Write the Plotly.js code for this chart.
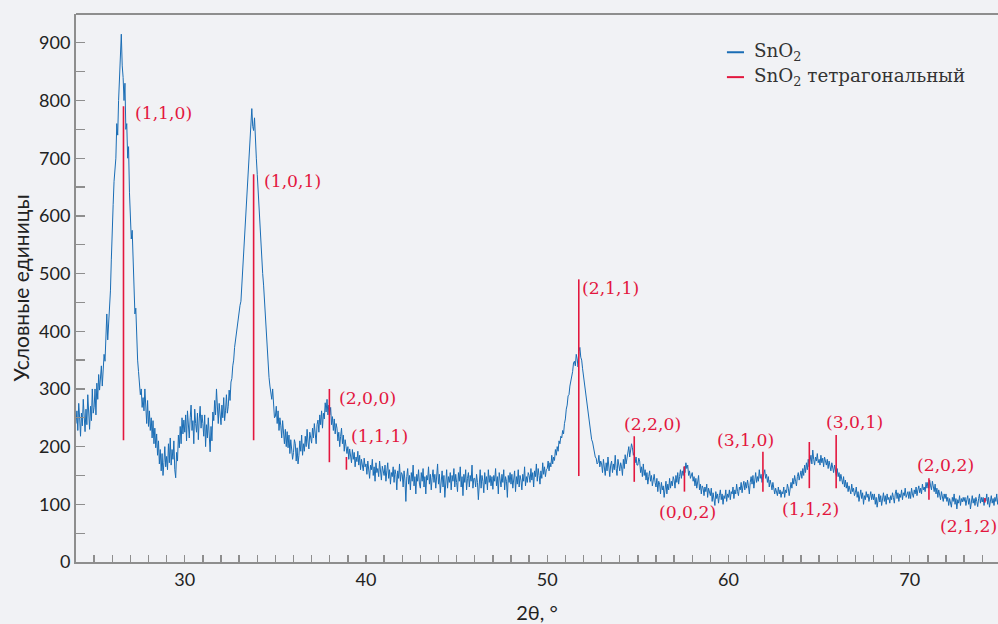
<!DOCTYPE html>
<html>
<head>
<meta charset="utf-8">
<script src="https://cdn.plot.ly/plotly-3.0.1.min.js"></script>
<style>html,body{margin:0;padding:0;background:#f1f2f5;}</style>
</head>
<body>
<div id="chart" style="width:998px;height:624px;"></div>
<script>
// Measured SnO2 pattern, sampled every 0.05° from 24.00° to 74.95° (one row = 1°)
const thetaStart = 24.0;
const thetaStep = 0.05;
const snoIntensity = [
  240, 262, 228, 275, 250, 218, 258, 236, 282, 244, 226, 265, 238, 290, 252, 230, 270, 245, 300, 258,
  268, 300, 255, 310, 282, 325, 298, 318, 340, 305, 335, 360, 348, 392, 430, 385, 410, 445, 470, 525,
  590, 620, 660, 676, 700, 760, 740, 800, 835, 870, 915, 860, 840, 800, 830, 750, 760, 700, 720, 640,
  600, 560, 575, 510, 470, 430, 440, 380, 350, 330, 315, 290, 300, 268, 285, 262, 300, 255, 240, 280,
  235, 262, 228, 250, 215, 245, 205, 232, 198, 222, 185, 210, 170, 195, 158, 188, 150, 172, 200, 165,
  183, 160, 205, 172, 215, 168, 195, 178, 210, 160, 146, 190, 175, 220, 198, 235, 205, 250, 222, 246,
  225, 255, 210, 262, 238, 215, 250, 272, 228, 245, 205, 265, 240, 225, 258, 212, 248, 270, 232, 255,
  240, 218, 255, 200, 238, 215, 250, 225, 191, 235, 210, 260, 245, 280, 255, 300, 262, 240, 275, 250,
  238, 272, 250, 285, 245, 262, 290, 258, 270, 298, 280, 312, 318, 340, 350, 372, 385, 400, 412, 425,
  430, 445, 452, 480, 505, 530, 555, 590, 618, 650, 685, 700, 735, 760, 786, 755, 748, 770, 714, 700,
  672, 640, 605, 590, 560, 530, 500, 480, 450, 420, 392, 370, 345, 320, 305, 290, 282, 300, 268, 250,
  252, 270, 240, 262, 228, 250, 236, 215, 245, 212, 205, 230, 200, 226, 198, 220, 188, 212, 198, 178,
  190, 212, 205, 175, 198, 170, 185, 210, 192, 220, 185, 205, 192, 218, 200, 230, 208, 196, 225, 212,
  206, 232, 215, 240, 222, 205, 238, 246, 225, 255, 238, 262, 232, 258, 248, 276, 260, 282, 255, 272,
  255, 268, 238, 252, 228, 248, 222, 240, 232, 210, 225, 200, 218, 232, 205, 220, 192, 212, 200, 188,
  200, 178, 196, 185, 172, 195, 178, 190, 165, 182, 174, 192, 168, 185, 160, 178, 170, 158, 180, 165,
  170, 152, 175, 158, 145, 168, 160, 178, 150, 165, 140, 172, 155, 162, 148, 175, 158, 142, 166, 155,
  150, 168, 140, 158, 172, 145, 160, 135, 155, 148, 165, 138, 160, 152, 125, 158, 145, 170, 140, 155,
  152, 130, 158, 142, 105, 148, 162, 135, 150, 125, 155, 140, 168, 132, 148, 118, 152, 140, 160, 135,
  128, 155, 140, 162, 130, 148, 118, 150, 142, 165, 135, 152, 125, 146, 160, 138, 152, 128, 145, 170,
  135, 152, 120, 148, 158, 130, 150, 112, 142, 160, 128, 148, 138, 155, 125, 150, 140, 162, 130, 152,
  138, 122, 155, 140, 165, 130, 148, 115, 152, 138, 160, 125, 145, 155, 130, 150, 140, 168, 128, 145,
  145, 130, 152, 138, 108, 145, 160, 128, 150, 140, 120, 155, 135, 148, 125, 160, 138, 150, 132, 148,
  126, 150, 140, 162, 132, 148, 118, 155, 142, 130, 152, 138, 160, 125, 148, 140, 112, 150, 138, 155,
  135, 152, 128, 145, 158, 122, 148, 135, 160, 130, 150, 142, 125, 152, 140, 165, 132, 148, 138, 155,
  150, 138, 162, 142, 155, 130, 158, 148, 170, 140, 162, 150, 135, 158, 145, 172, 152, 165, 148, 160,
  162, 175, 158, 172, 165, 185, 170, 182, 176, 195, 185, 200, 192, 210, 205, 218, 215, 228, 222, 240,
  248, 265, 272, 288, 290, 305, 312, 325, 330, 345, 348, 340, 360, 352, 338, 365, 372, 355, 350, 335,
  322, 310, 300, 290, 281, 262, 250, 235, 228, 212, 208, 198, 196, 182, 180, 170, 172, 185, 165, 175,
  170, 155, 178, 162, 150, 172, 158, 182, 160, 148, 168, 175, 155, 170, 160, 185, 162, 150, 178, 165,
  158, 172, 165, 150, 178, 162, 186, 170, 180, 195, 200, 182, 192, 205, 198, 185, 190, 172, 182, 168,
  168, 180, 175, 155, 165, 148, 170, 150, 160, 142, 155, 135, 148, 158, 140, 150, 132, 145, 152, 138,
  130, 145, 122, 140, 135, 118, 138, 125, 132, 112, 128, 140, 118, 135, 125, 145, 128, 140, 132, 148,
  142, 128, 150, 138, 155, 135, 148, 160, 145, 158, 150, 165, 155, 172, 162, 168, 150, 158, 145, 152,
  155, 140, 148, 132, 145, 128, 138, 150, 125, 135, 118, 132, 128, 115, 130, 122, 135, 112, 128, 120,
  115, 128, 105, 120, 112, 98, 122, 110, 118, 102, 115, 125, 108, 118, 100, 115, 110, 125, 105, 118,
  112, 125, 108, 122, 118, 130, 110, 125, 118, 135, 122, 115, 130, 125, 138, 120, 132, 140, 125, 138,
  128, 142, 132, 118, 138, 148, 135, 150, 128, 142, 155, 138, 148, 140, 160, 145, 152, 138, 148, 155,
  160, 145, 152, 138, 148, 130, 142, 135, 125, 138, 130, 118, 128, 122, 115, 130, 118, 125, 112, 122,
  118, 130, 112, 125, 120, 135, 128, 115, 132, 138, 128, 145, 135, 150, 140, 132, 148, 155, 142, 150,
  158, 145, 162, 150, 168, 155, 172, 160, 178, 165, 175, 185, 170, 194, 178, 168, 182, 175, 188, 172,
  178, 168, 185, 172, 180, 165, 182, 175, 168, 178, 162, 175, 168, 158, 172, 165, 155, 168, 160, 150,
  162, 148, 155, 140, 152, 145, 135, 148, 130, 142, 128, 138, 122, 132, 125, 118, 135, 122, 128, 115,
  120, 130, 112, 122, 105, 118, 125, 110, 120, 100, 115, 108, 122, 112, 118, 105, 115, 122, 108, 118,
  108, 118, 100, 112, 95, 110, 118, 104, 115, 98, 112, 120, 105, 115, 100, 118, 108, 112, 102, 115,
  108, 120, 112, 102, 118, 125, 110, 120, 105, 118, 112, 125, 108, 120, 115, 128, 112, 118, 122, 110,
  122, 110, 128, 118, 112, 125, 118, 130, 115, 125, 132, 120, 128, 118, 135, 125, 130, 122, 138, 128,
  138, 128, 142, 132, 125, 140, 130, 122, 135, 118, 128, 112, 125, 118, 108, 122, 115, 105, 118, 110,
  118, 105, 112, 98, 110, 102, 95, 112, 105, 118, 100, 110, 92, 108, 102, 115, 98, 110, 104, 112,
  105, 112, 98, 108, 115, 100, 110, 92, 108, 115, 102, 110, 98, 112, 105, 96, 110, 118, 102, 112,
  104, 112, 98, 110, 106, 118, 100, 112, 95, 108, 115, 102, 110, 98, 112, 105, 118, 100, 112, 108
];

// Tetragonal SnO2 reference reflections
const refHkl    = ["(1,1,0)", "(1,0,1)", "(2,0,0)", "(1,1,1)", "(2,1,1)", "(2,2,0)", "(0,0,2)", "(3,1,0)", "(1,1,2)", "(3,0,1)", "(2,0,2)", "(2,1,2)"];
const refTheta  = [26.62, 33.8, 37.98, 38.92, 51.74, 54.8, 57.57, 61.9, 64.46, 65.94, 71.06, 74.15];
const refTop    = [790, 672, 300, 182, 490, 218, 166, 191, 208, 220, 145, 111];
const refBottom = [211, 211, 173, 160, 149, 139, 122, 122, 128, 128, 108, 103];
// label anchor points (centre of each hkl label, data units)
const labelTheta = [28.83, 35.92, 40.06, 40.77, 53.49, 55.82, 57.72, 60.94, 64.55, 66.97, 71.95, 73.25];
const labelValue = [778, 660, 284, 219, 475, 240, 86, 212, 92, 242, 168, 63];

const xTickVals = [30, 40, 50, 60, 70];

const refX = [], refY = [];
refTheta.forEach((t, i) => {
  refX.push(t, t, null);
  refY.push(refBottom[i], refTop[i], null);
});

const red = '#e3173e';
const blue = '#1a6db5';
const grey = '#8e8e8e';
const serif = 'DejaVu Serif, serif';
const sans = 'Lato, Open Sans, sans-serif';

const traces = [
  {
    type: 'scatter', mode: 'lines', name: 'SnO<sub>2</sub>',
    x0: thetaStart, dx: thetaStep, y: snoIntensity,
    line: {color: blue, width: 1}, showlegend: false, hoverinfo: 'x+y'
  },
  {
    type: 'scatter', mode: 'lines', name: 'SnO<sub>2</sub> тетрагональный',
    x: refX, y: refY, connectgaps: false,
    line: {color: red, width: 1.6}, showlegend: false
  }
];

const annotations = refHkl.map((t, i) => ({
  x: labelTheta[i], y: labelValue[i], xref: 'x', yref: 'y',
  text: t, showarrow: false, xanchor: 'center', yanchor: 'middle',
  font: {family: serif, size: 17.2, color: red}
}));

// custom legend
const legendItems = [
  {text: 'SnO<sub>2</sub>', color: blue, y: 0.9302},
  {text: 'SnO<sub>2</sub> тетрагональный', color: red, y: 0.8848}
];
const shapes = [
  {type: 'line', xref: 'paper', yref: 'paper', x0: 0, x1: 1, y0: 1, y1: 1,
   line: {color: grey, width: 2}}
];
legendItems.forEach(it => {
  shapes.push({type: 'line', xref: 'paper', yref: 'paper', x0: 0.706, x1: 0.7245,
    y0: it.y, y1: it.y, line: {color: it.color, width: 2}});
  annotations.push({xref: 'paper', yref: 'paper', x: 0.7332, y: it.y,
    xanchor: 'left', yanchor: 'middle', showarrow: false, text: it.text,
    font: {family: serif, size: 18.3, color: '#333'}});
});

const layout = {
  width: 998, height: 624,
  paper_bgcolor: '#f1f2f5', plot_bgcolor: '#f1f2f5',
  margin: {l: 76, r: 0, t: 14, b: 62},
  showlegend: false,
  xaxis: {
    range: [24, 74.87], showgrid: false, zeroline: false,
    showline: true, linecolor: grey, linewidth: 2,
    tickvals: xTickVals, ticks: 'inside', ticklen: 7, tickwidth: 1.3, tickcolor: grey,
    minor: {dtick: 1, tick0: 0, ticks: 'inside', ticklen: 7, tickwidth: 1.3, tickcolor: grey, showgrid: false},
    tickfont: {family: sans, size: 18, color: '#222'},
    title: {text: '2θ, °', font: {family: sans, size: 20, color: '#222'}, standoff: 19},
    automargin: false
  },
  yaxis: {
    range: [0, 950], showgrid: false, zeroline: false,
    showline: true, linecolor: grey, linewidth: 2,
    dtick: 100, tick0: 0, ticks: 'inside', ticklen: 9, tickwidth: 1.3, tickcolor: grey,
    minor: {dtick: 50, tick0: 0, ticks: 'inside', ticklen: 9, tickwidth: 1.3, tickcolor: grey, showgrid: false},
    tickfont: {family: sans, size: 18, color: '#222'},
    title: {text: 'Условные единицы', font: {family: sans, size: 21, color: '#222'}, standoff: 4},
    automargin: false
  },
  shapes: shapes,
  annotations: annotations
};

Plotly.newPlot('chart', traces, layout, {displayModeBar: false, staticPlot: true});
</script>
</body>
</html>
